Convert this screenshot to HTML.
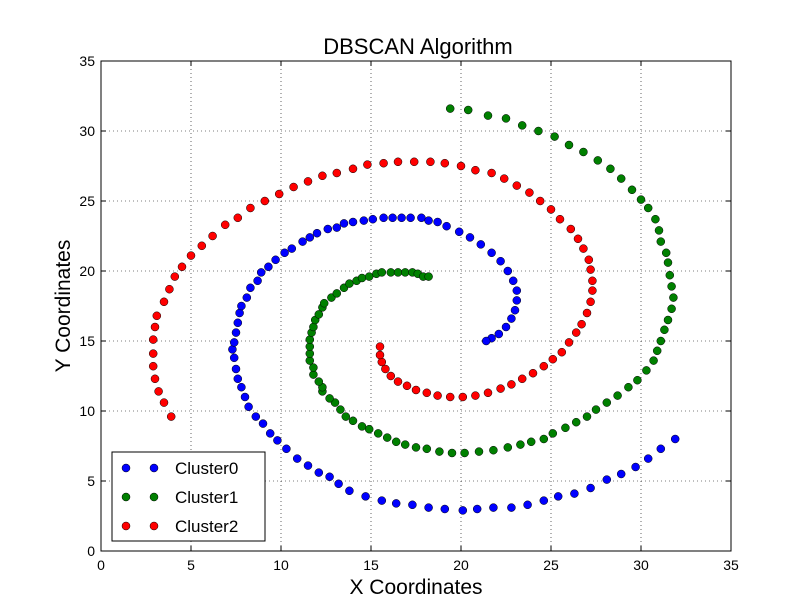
<!DOCTYPE html>
<html><head><meta charset="utf-8"><style>
body{margin:0;background:#fff;}
svg{display:block;font-family:"Liberation Sans",sans-serif;}
</style></head><body>
<svg id="chart" width="812" height="612">
<rect width="812" height="612" fill="#fff"/>
<text x="418" y="54" font-size="22" text-anchor="middle">DBSCAN Algorithm</text>
<text x="416" y="594" font-size="21" text-anchor="middle">X Coordinates</text>
<text transform="translate(70,306) rotate(-90)" font-size="21" text-anchor="middle">Y Coordinates</text>
<g id="grid"></g><g id="ticks"></g><g id="marks"></g>
<rect x="101" y="61" width="630" height="490" fill="none" stroke="#000" stroke-width="1"/>
<g id="legend"></g>
</svg>
<script>
const xTicks=[0,5,10,15,20,25,30,35];
const yTicks=[0,5,10,15,20,25,30,35];
const seriesNames=["Cluster0","Cluster1","Cluster2"];
const seriesColors=["#0000ff","#008000","#ff0000"];
const cluster0X=[31.9,31.1,30.4,29.7,28.9,28.1,27.2,26.3,25.4,24.6,23.7,22.8,21.8,20.9,20.1,19.1,18.2,17.3,16.4,15.6,14.7,13.8,13.2,12.7,12.1,11.5,10.9,10.3,9.8,9.4,9.0,8.6,8.2,8.0,7.8,7.6,7.5,7.4,7.3,7.4,7.5,7.6,7.7,7.8,8.1,8.3,8.7,8.9,9.3,9.7,10.2,10.6,11.2,11.6,12.0,12.6,13.1,13.5,14.0,14.6,15.1,15.7,16.2,16.7,17.2,17.8,18.2,18.7,19.2,19.9,20.5,21.1,21.7,22.2,22.6,22.9,23.1,23.1,23.0,22.8,22.5,22.1,21.7,21.4];
const cluster0Y=[8.0,7.3,6.6,6.0,5.5,5.1,4.5,4.1,3.9,3.6,3.3,3.1,3.1,3.0,2.9,3.0,3.1,3.3,3.4,3.6,3.9,4.3,4.8,5.3,5.6,6.1,6.6,7.3,7.9,8.4,9.1,9.6,10.3,11.0,11.7,12.3,13.0,13.8,14.4,14.9,15.6,16.3,17.0,17.5,18.1,18.8,19.3,19.9,20.3,20.8,21.3,21.6,22.1,22.4,22.7,23.0,23.1,23.4,23.5,23.6,23.7,23.8,23.8,23.8,23.8,23.8,23.6,23.5,23.2,22.8,22.4,21.9,21.3,20.7,20.0,19.3,18.6,17.9,17.2,16.6,16.0,15.5,15.2,15.0];
const cluster1X=[19.4,20.4,21.5,22.5,23.4,24.3,25.2,26.0,26.8,27.6,28.3,28.9,29.5,30.0,30.4,30.8,31.0,31.1,31.4,31.5,31.6,31.7,31.8,31.7,31.5,31.3,31.1,30.9,30.7,30.3,29.8,29.3,28.7,28.1,27.5,27.0,26.4,25.8,25.1,24.6,23.9,23.3,22.6,21.8,21.0,20.2,19.5,18.8,18.1,17.5,16.9,16.4,15.9,15.4,14.9,14.5,14.0,13.6,13.3,13.0,12.7,12.3,12.3,12.1,11.8,11.8,11.6,11.6,11.6,11.6,11.7,11.8,11.9,12.1,12.3,12.4,12.8,13.1,13.5,13.8,14.2,14.5,14.9,15.3,15.6,16.1,16.5,16.9,17.3,17.6,17.9,18.2];
const cluster1Y=[31.6,31.5,31.1,30.9,30.4,30.0,29.6,29.0,28.5,27.9,27.3,26.6,25.8,25.1,24.5,23.7,22.9,22.1,21.3,20.6,19.7,18.9,18.1,17.3,16.5,15.8,15.0,14.3,13.6,12.9,12.2,11.7,11.1,10.6,10.1,9.6,9.2,8.8,8.4,8.0,7.8,7.6,7.4,7.2,7.1,7.0,7.0,7.1,7.3,7.4,7.6,7.8,8.1,8.4,8.7,8.9,9.3,9.6,10.1,10.6,10.9,11.4,11.7,12.1,12.6,13.1,13.6,14.1,14.6,15.1,15.6,16.0,16.5,16.9,17.4,17.7,18.1,18.4,18.8,19.1,19.3,19.5,19.6,19.8,19.9,19.9,19.9,19.9,19.9,19.8,19.6,19.6];
const cluster2X=[3.9,3.5,3.2,3.0,2.9,2.9,2.9,3.0,3.1,3.5,3.8,4.1,4.5,5.0,5.6,6.2,6.9,7.6,8.3,9.1,9.9,10.7,11.5,12.3,13.1,14.0,14.8,15.7,16.5,17.4,18.3,19.1,20.0,20.8,21.7,22.4,23.1,23.8,24.4,25.0,25.5,26.1,26.5,26.8,27.1,27.2,27.3,27.3,27.2,27.0,26.7,26.4,26.0,25.6,25.1,24.6,24.0,23.4,22.8,22.2,21.5,20.8,20.1,19.4,18.7,18.1,17.5,17.0,16.5,16.1,15.8,15.6,15.5,15.5];
const cluster2Y=[9.6,10.6,11.4,12.3,13.2,14.1,15.1,16.0,16.8,17.8,18.7,19.6,20.3,21.1,21.8,22.5,23.3,23.8,24.5,25.0,25.5,26.0,26.4,26.8,27.0,27.3,27.6,27.7,27.8,27.8,27.8,27.7,27.5,27.2,27.0,26.6,26.1,25.6,25.0,24.4,23.7,23.0,22.3,21.6,20.8,20.1,19.3,18.6,17.8,17.0,16.2,15.6,14.9,14.2,13.7,13.2,12.7,12.3,11.9,11.6,11.3,11.1,11.0,11.0,11.1,11.3,11.5,11.8,12.1,12.5,13.0,13.5,14.0,14.6];
const seriesX=[cluster0X,cluster1X,cluster2X];
const seriesY=[cluster0Y,cluster1Y,cluster2Y];

const NS="http://www.w3.org/2000/svg";
const L=101,R=731,T=61,B=551;
function sx(v){return L+(v-0)/(35-0)*(R-L);}
function sy(v){return B-(v-0)/(35-0)*(B-T);}
function mk(tag,attrs,parent){const e=document.createElementNS(NS,tag);for(const k in attrs)e.setAttribute(k,attrs[k]);parent.appendChild(e);return e;}
const grid=document.getElementById('grid'),ticks=document.getElementById('ticks'),marks=document.getElementById('marks'),legend=document.getElementById('legend');
xTicks.forEach(t=>{
  const x=sx(t);
  const g=mk('line',{x1:x,x2:x,y1:T,y2:B,stroke:'#000','stroke-width':0.6,'stroke-dasharray':'1,3'},grid);
  
  
  mk('line',{x1:x,x2:x,y1:B,y2:B-5,stroke:'#000'},ticks);
  mk('line',{x1:x,x2:x,y1:T,y2:T+5,stroke:'#000'},ticks);
  const tx=mk('text',{x:x,y:B+19,'font-size':14,'text-anchor':'middle'},ticks);
  tx.textContent=t;
  
  
});
yTicks.forEach(t=>{
  const y=sy(t);
  const g=mk('line',{x1:L,x2:R,y1:y,y2:y,stroke:'#000','stroke-width':0.6,'stroke-dasharray':'1,3'},grid);
  
  
  mk('line',{x1:L,x2:L+5,y1:y,y2:y,stroke:'#000'},ticks);
  mk('line',{x1:R,x2:R-5,y1:y,y2:y,stroke:'#000'},ticks);
  const tx=mk('text',{x:L-6,y:y+5,'font-size':14,'text-anchor':'end'},ticks);
  tx.textContent=t;
  
  
});
seriesX.forEach((xs,i)=>{
  xs.forEach((v,j)=>{
    const c=mk('circle',{cx:sx(v),cy:sy(seriesY[i][j]),r:4,fill:seriesColors[i],stroke:'#000','stroke-width':0.5},marks);
    
    
  });
});
const box=mk('rect',{x:112,y:452,width:153,height:89,fill:'#fff',stroke:'#000'},legend);


seriesNames.forEach((n,i)=>{
  const y=468+i*29;
  const g=mk('g',{},legend);
  
  
  mk('circle',{cx:126,cy:y,r:4,fill:seriesColors[i],stroke:'#000','stroke-width':0.5},g);
  mk('circle',{cx:154,cy:y,r:4,fill:seriesColors[i],stroke:'#000','stroke-width':0.5},g);
  const t=mk('text',{x:175,y:y+6,'font-size':17},g);
  t.textContent=n;
});
</script>
</body></html>
